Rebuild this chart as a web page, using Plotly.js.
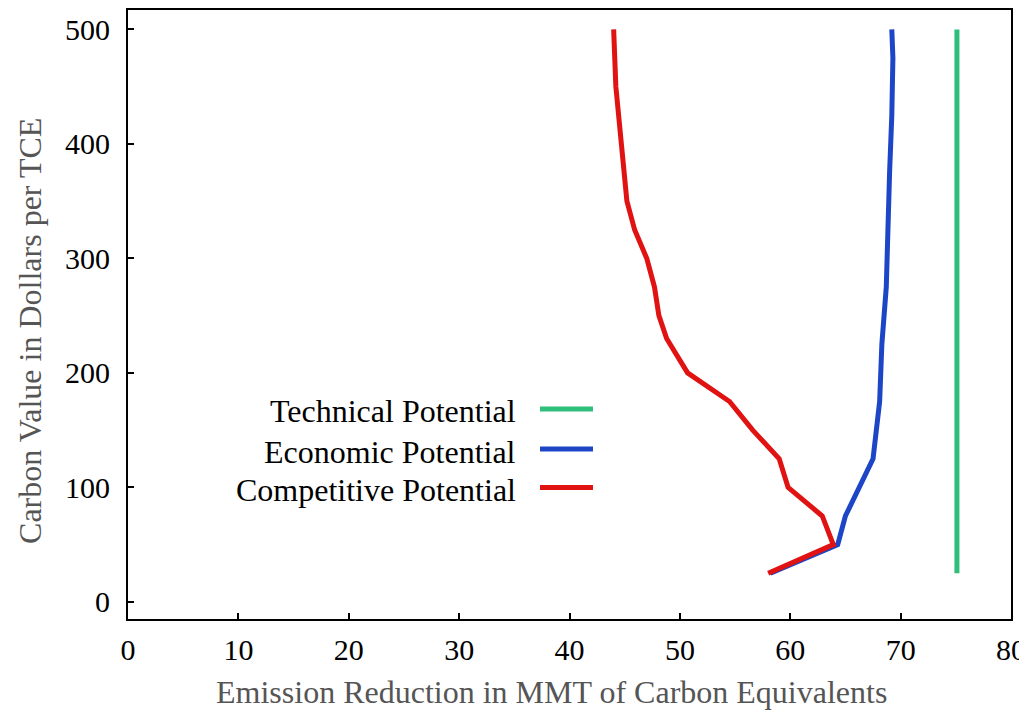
<!DOCTYPE html>
<html>
<head>
<meta charset="utf-8">
<script src="https://cdn.plot.ly/plotly-3.0.1.min.js"></script>
<style>html,body{margin:0;padding:0;background:#fff;overflow:hidden;}#chart{width:1019px;height:711px;}</style>
</head>
<body>
<div id="chart"></div>
<script>
// Technical Potential
const techPrice = [25, 500];
const techReduction = [75.1, 75.1];
// Economic Potential
const econPrice = [25, 50, 75, 100, 125, 175, 225, 275, 325, 375, 425, 475, 500];
const econReduction = [58.2, 64.3, 65.0, 66.3, 67.5, 68.1, 68.3, 68.7, 68.8, 69.0, 69.2, 69.3, 69.2];
// Competitive Potential
const compPrice = [25, 50, 75, 100, 125, 150, 175, 200, 230, 250, 275, 300, 325, 350, 400, 450, 500];
const compReduction = [58.0, 63.9, 62.9, 59.8, 59.0, 56.6, 54.5, 50.7, 48.8, 48.1, 47.7, 47.0, 45.9, 45.2, 44.7, 44.2, 44.0];

const seriesNames = ["Technical Potential", "Economic Potential", "Competitive Potential"];
const seriesColors = ["#2fbf7a", "#1c46c6", "#e01212"];

const xTicks = [0, 10, 20, 30, 40, 50, 60, 70, 80];
const yTicks = [0, 100, 200, 300, 400, 500];

const xTitle = "Emission Reduction in MMT of Carbon Equivalents";
const yTitle = "Carbon Value in Dollars per TCE";

const serif = "Times New Roman";

const traces = [
  {x: techReduction, y: techPrice, name: seriesNames[0], mode: "lines", line: {color: seriesColors[0], width: 5}, showlegend: false},
  {x: econReduction, y: econPrice, name: seriesNames[1], mode: "lines", line: {color: seriesColors[1], width: 5}, showlegend: false},
  {x: compReduction, y: compPrice, name: seriesNames[2], mode: "lines", line: {color: seriesColors[2], width: 5}, showlegend: false}
];

// manual legend: text left, line sample right
const legY = [0.341, 0.275, 0.212];
const annotations = seriesNames.map((n, i) => ({
  xref: "paper", yref: "paper", x: 0.442, y: legY[i], xanchor: "right", yanchor: "middle",
  text: n, showarrow: false, font: {family: serif, size: 32, color: "#000"}
}));
annotations.push({
  xref: "paper", yref: "paper", x: 0.480, y: -0.12, xanchor: "center", yanchor: "middle",
  text: xTitle, showarrow: false, font: {family: serif, size: 32, color: "#555"}
});
annotations.push({
  xref: "paper", yref: "paper", x: -0.111, y: 0.473, xanchor: "center", yanchor: "middle",
  text: yTitle, textangle: -90, showarrow: false, font: {family: serif, size: 32, color: "#555"}
});
const shapes = seriesNames.map((n, i) => ({
  type: "line", xref: "paper", yref: "paper", x0: 0.4666, x1: 0.5266, y0: legY[i] + 0.004, y1: legY[i] + 0.004,
  line: {color: seriesColors[i], width: 5}
}));

const layout = {
  width: 1019, height: 711,
  margin: {l: 128, r: 8, t: 10, b: 92},
  paper_bgcolor: "#fff", plot_bgcolor: "#fff",
  font: {family: serif, color: "#000"},
  xaxis: {
    range: [0, 80], tickvals: xTicks, ticktext: xTicks.map(String),
    ticks: "inside", ticklen: 6, tickwidth: 2, tickcolor: "#000",
    showline: true, linecolor: "#000", linewidth: 2, mirror: true,
    showgrid: false, zeroline: false,
    tickfont: {family: serif, size: 30, color: "#000"},
    ticklabelstandoff: 3, ticklabeloverflow: "allow"
  },
  yaxis: {
    range: [-15, 517], tickvals: yTicks, ticktext: yTicks.map(String),
    ticks: "inside", ticklen: 6, tickwidth: 2, tickcolor: "#000",
    showline: true, linecolor: "#000", linewidth: 2, mirror: true,
    showgrid: false, zeroline: false,
    tickfont: {family: serif, size: 30, color: "#000"},
    ticklabelstandoff: 10
  },
  annotations: annotations,
  shapes: shapes,
  showlegend: false
};

Plotly.newPlot("chart", traces, layout, {displayModeBar: false, staticPlot: true});
</script>
</body>
</html>
